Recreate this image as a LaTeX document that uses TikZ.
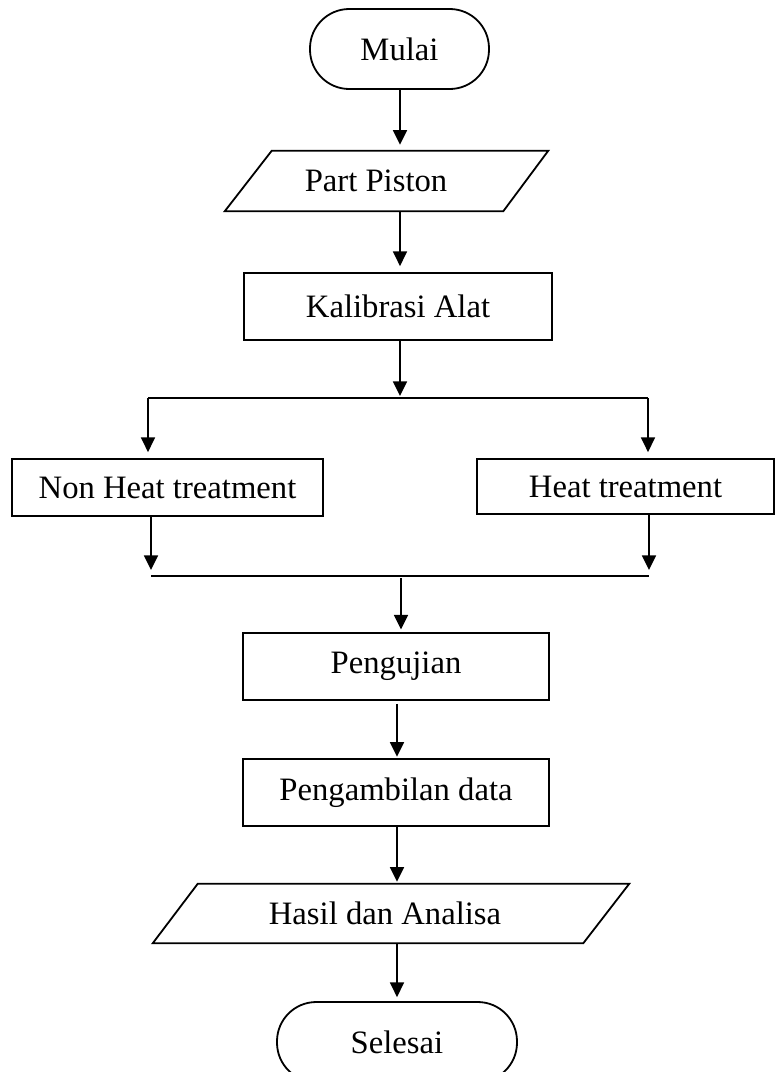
\documentclass[tikz,border=0pt]{standalone}
\usepackage{fontspec}
\setmainfont{Liberation Serif}
\usetikzlibrary{arrows.meta,calc}
\begin{document}
\begin{tikzpicture}[x=0.75pt,y=-0.75pt,
  every node/.style={font=\fontsize{24.5}{28}\selectfont},
  box/.style={draw,line width=1.35pt,rectangle,inner sep=0pt},
  term/.style={draw,line width=1.35pt,rectangle,rounded corners=29.5pt,inner sep=0pt},
  io/.style={rectangle,inner sep=0pt},
  ln/.style={line width=1.35pt},
  arr/.style={line width=1.35pt,-{Triangle[length=11pt,width=10.5pt]}},
  gap/.style={shorten >=4.5pt}]
\useasboundingbox (0,0) rectangle (775,1072);
\clip (0,0) rectangle (775,1072);
\fill[white] (0,0) rectangle (775,1072);
% nodes
\node[term,minimum width=134.25pt,minimum height=60pt] (mulai) at (399.5,49) {\raisebox{-2pt}{Mulai}};
\node[io,minimum width=242.25pt,minimum height=45pt] (piston) at (376,181) {Part Piston};
\draw[ln,line join=miter] ($(piston.north west)+(57.5,0)$) -- ($(piston.north east)+(10.5,0)$) -- ($(piston.south east)+(-34.5,0)$) -- ($(piston.south west)+(10.5,0)$) -- cycle;
\node[box,minimum width=231pt,minimum height=50.25pt] (kal) at (398,306.5) {Kalibrasi Alat};
\node[box,minimum width=233.25pt,minimum height=42.75pt] (nonheat) at (167.5,487.5) {Non Heat treatment};
\node[box,minimum width=222.75pt,minimum height=41.25pt] (heat) at (625.5,486.5) {Heat treatment};
\node[box,minimum width=229.5pt,minimum height=50.25pt] (peng) at (396,666.5) {Pengujian};
\node[box,minimum width=229.5pt,minimum height=50.25pt] (data) at (396,792.5) {Pengambilan data};
\node[io,minimum width=357pt,minimum height=44.25pt] (hasil) at (385,913.5) {Hasil dan Analisa};
\draw[ln,line join=miter] ($(hasil.north west)+(51,0)$) -- ($(hasil.north east)+(6,0)$) -- ($(hasil.south east)+(-40,0)$) -- ($(hasil.south west)+(6,0)$) -- cycle;
\node[term,minimum width=180pt,minimum height=60pt] (selesai) at (397,1042) {Selesai};
% helper coordinates
\coordinate (c1) at (400,0);
\coordinate (c2) at (401,0);
\coordinate (c3) at (397,0);
\coordinate (sL) at (148,398);
\coordinate (sR) at (648,398);
\coordinate (mL) at (151,576);
\coordinate (mR) at (649,576);
% connectors
\draw[arr,gap] (c1 |- mulai.south) -- (c1 |- piston.north);
\draw[arr,gap] (c1 |- piston.south) -- (c1 |- kal.north);
\draw[arr,shorten >=1.5pt] (c1 |- kal.south) -- (c1 |- sL);
\draw[ln] (sL) -- (sR);
\draw[arr,gap] (sL) -- (sL |- nonheat.north);
\draw[arr,gap] (sR) -- (sR |- heat.north);
\draw[arr,gap] (mL |- nonheat.south) -- (mL);
\draw[arr,gap] (mR |- heat.south) -- (mR);
\draw[ln] (mL) -- (mR);
\draw[arr,shorten >=2pt] ($(c2 |- mL)+(0,2)$) -- (c2 |- peng.north);
\draw[arr,shorten >=1pt] ($(c3 |- peng.south)+(0,3)$) -- (c3 |- data.north);
\draw[arr,shorten >=1.5pt] (c3 |- data.south) -- (c3 |- hasil.north);
\draw[arr,shorten >=3pt] (c3 |- hasil.south) -- (c3 |- selesai.north);
\end{tikzpicture}
\end{document}
